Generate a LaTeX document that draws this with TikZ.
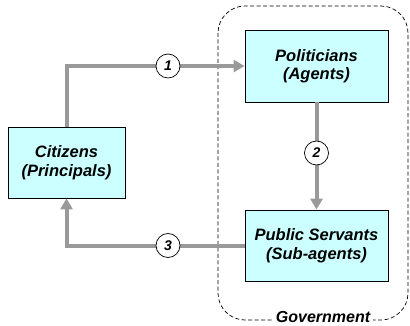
\documentclass[tikz,border=0pt]{standalone}
\usepackage{fontspec}
\setmainfont{Liberation Sans}
\usetikzlibrary{arrows.meta}
\definecolor{boxfill}{HTML}{CCFFFF}
\definecolor{flowgray}{HTML}{999999}
\begin{document}
\begin{tikzpicture}[x=1pt,y=-1pt,
  actor/.style={draw=black,line width=0.8pt,fill=boxfill,align=center,
    font=\fontsize{16.5}{18.5}\selectfont\bfseries\itshape,inner sep=0pt},
  flow/.style={draw=flowgray,line width=4pt,
    -{Triangle[length=11pt,width=12pt]}},
  stepnum/.style={circle,draw=black,line width=0.7pt,fill=white,
    minimum size=24pt,inner sep=0pt,
    font=\fontsize{14}{16}\selectfont\bfseries\itshape}]
  \useasboundingbox (0,0) rectangle (410,326);
  % government boundary
  \draw[dash pattern=on 4pt off 2.5pt,line width=0.7pt,rounded corners=27pt]
    (218,6) rectangle (408,320);
  \node[fill=white,inner xsep=3pt,inner ysep=1pt,
    font=\fontsize{16}{18}\selectfont\bfseries\itshape] (gov) at (323,317) {Government};
  % actors
  \node[actor,minimum width=117pt,minimum height=71pt] (cit) at (66.5,162.5)
    {Citizens\\(Principals)};
  \node[actor,minimum width=143pt,minimum height=72pt] (pol) at (316.5,66)
    {Politicians\\(Agents)};
  \node[actor,minimum width=143pt,minimum height=71pt] (pub) at (316.5,245.5)
    {Public Servants\\(Sub-agents)};
  % delegation flows
  \draw[flow] (cit.north) |- (pol.west);
  \draw[flow] (pol.south) -- (pub.north);
  \draw[flow] (pub.west) -| (cit.south);
  % step markers
  \node[stepnum] (s1) at (168,66) {1};
  \node[stepnum] (s2) at (316.5,153) {2};
  \node[stepnum] (s3) at (168,245.5) {3};
\end{tikzpicture}
\end{document}
